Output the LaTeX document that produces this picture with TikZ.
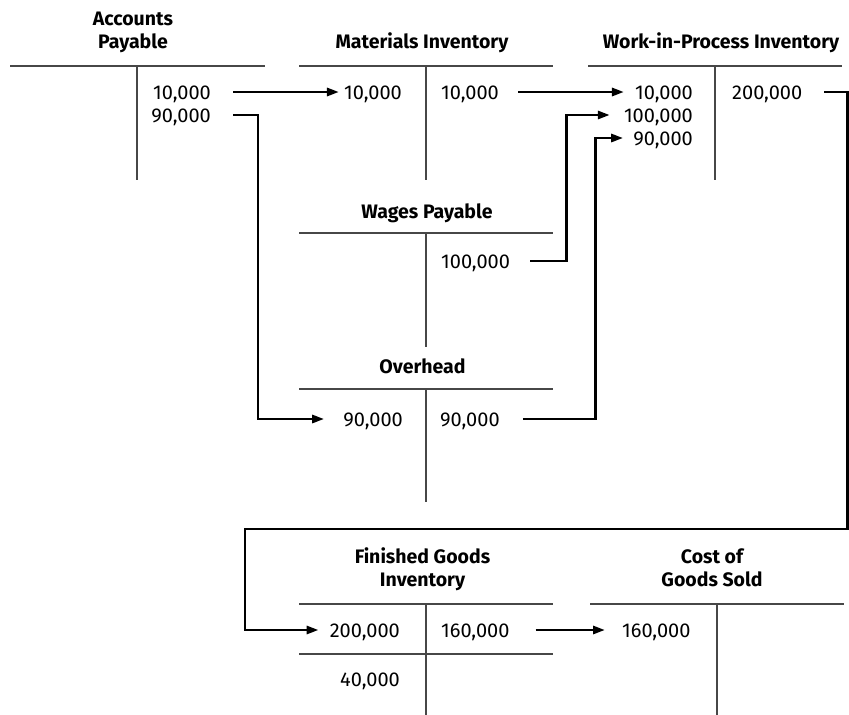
\documentclass[tikz,border=0pt]{standalone}
\usepackage{fontspec}
\setmainfont{Fira Sans}
\usetikzlibrary{arrows.meta}
\tikzset{
  tline/.style={line width=1.3pt, draw=black!72},
  arr/.style={line width=2.8pt, -{Triangle[length=12pt,width=8pt]}},
  num/.style={inner sep=0pt, text height=14pt, text depth=0pt, font=\fontsize{20}{23}\selectfont},
  ttl/.style={inner sep=0pt, text depth=0pt, align=center, anchor=south, font=\bfseries\fontsize{19.5}{23}\selectfont}
}
\begin{document}
\begin{tikzpicture}[x=1pt,y=-1pt]
\useasboundingbox (0,0) rectangle (849,715);
% T-accounts
\draw[tline] (10,66) -- (265,66) (137,66) -- (137,180);
\draw[tline] (299,66) -- (553,66) (426,66) -- (426,180);
\draw[tline] (588,66) -- (842,66) (715,66) -- (715,180);
\draw[tline] (299,233) -- (553,233) (426,233) -- (426,347);
\draw[tline] (299,389) -- (553,389) (426,389) -- (426,502);
\draw[tline] (299,604) -- (553,604) (426,604) -- (426,715) (299,654) -- (553,654);
\draw[tline] (590,604) -- (844,604) (717,604) -- (717,715);
% titles
\node[ttl] (tap) at (133,49) {Accounts\\Payable};
\node[ttl] (tmi) at (422,49) {Materials Inventory};
\node[ttl] (twip) at (721,49) {Work-in-Process Inventory};
\node[ttl] (twp) at (427,219) {Wages Payable};
\node[ttl] (toh) at (422.5,374) {Overhead};
\node[ttl] (tfg) at (422.5,587) {Finished Goods\\Inventory};
\node[ttl] (tcg) at (712,587) {Cost of\\Goods Sold};
% amounts
\node[num, anchor=east] (ap1) at (211,92) {10,000};
\node[num, anchor=east] (ap2) at (211,115) {90,000};
\node[num, anchor=east] (mi1) at (402,92) {10,000};
\node[num, anchor=west] (mi2) at (441,92) {10,000};
\node[num, anchor=east] (wip1) at (693,92) {10,000};
\node[num, anchor=east] (wip2) at (693,115) {100,000};
\node[num, anchor=east] (wip3) at (693,138) {90,000};
\node[num, anchor=west] (wipr) at (732,92) {200,000};
\node[num, anchor=west] (wp1) at (441,261) {100,000};
\node[num, anchor=east] (oh1) at (403,419) {90,000};
\node[num, anchor=west] (oh2) at (440,419) {90,000};
\node[num, anchor=east] (fg1) at (400,630) {200,000};
\node[num, anchor=west] (fg2) at (441,630) {160,000};
\node[num, anchor=east] (fg3) at (400,679) {40,000};
\node[num, anchor=west] (cg1) at (622,630) {160,000};
% connectors
\coordinate (r1) at (847.5,529);
\coordinate (r2) at (245,529);
\draw[arr] ([xshift=22pt]ap1.east) -- ([xshift=-5pt]mi1.west);
\draw[arr] ([xshift=22pt]ap2.east) -- ++(25,0) |- ([xshift=-19pt]oh1.west);
\draw[arr] ([xshift=19pt]mi2.east) -- ([xshift=-11pt]wip1.west);
\draw[arr] ([xshift=20pt]wp1.east) -- ++(36,0) |- ([xshift=-14pt]wip2.west);
\draw[arr] ([xshift=23pt]oh2.east) -- ++(73,0) |- ([xshift=-10pt]wip3.west);
\draw[arr] ([xshift=22pt]wipr.east) -| (r1) -- (r2) |- ([xshift=-11pt]fg1.west);
\draw[arr] ([xshift=26pt]fg2.east) -- ([xshift=-17pt]cg1.west);
\end{tikzpicture}
\end{document}
